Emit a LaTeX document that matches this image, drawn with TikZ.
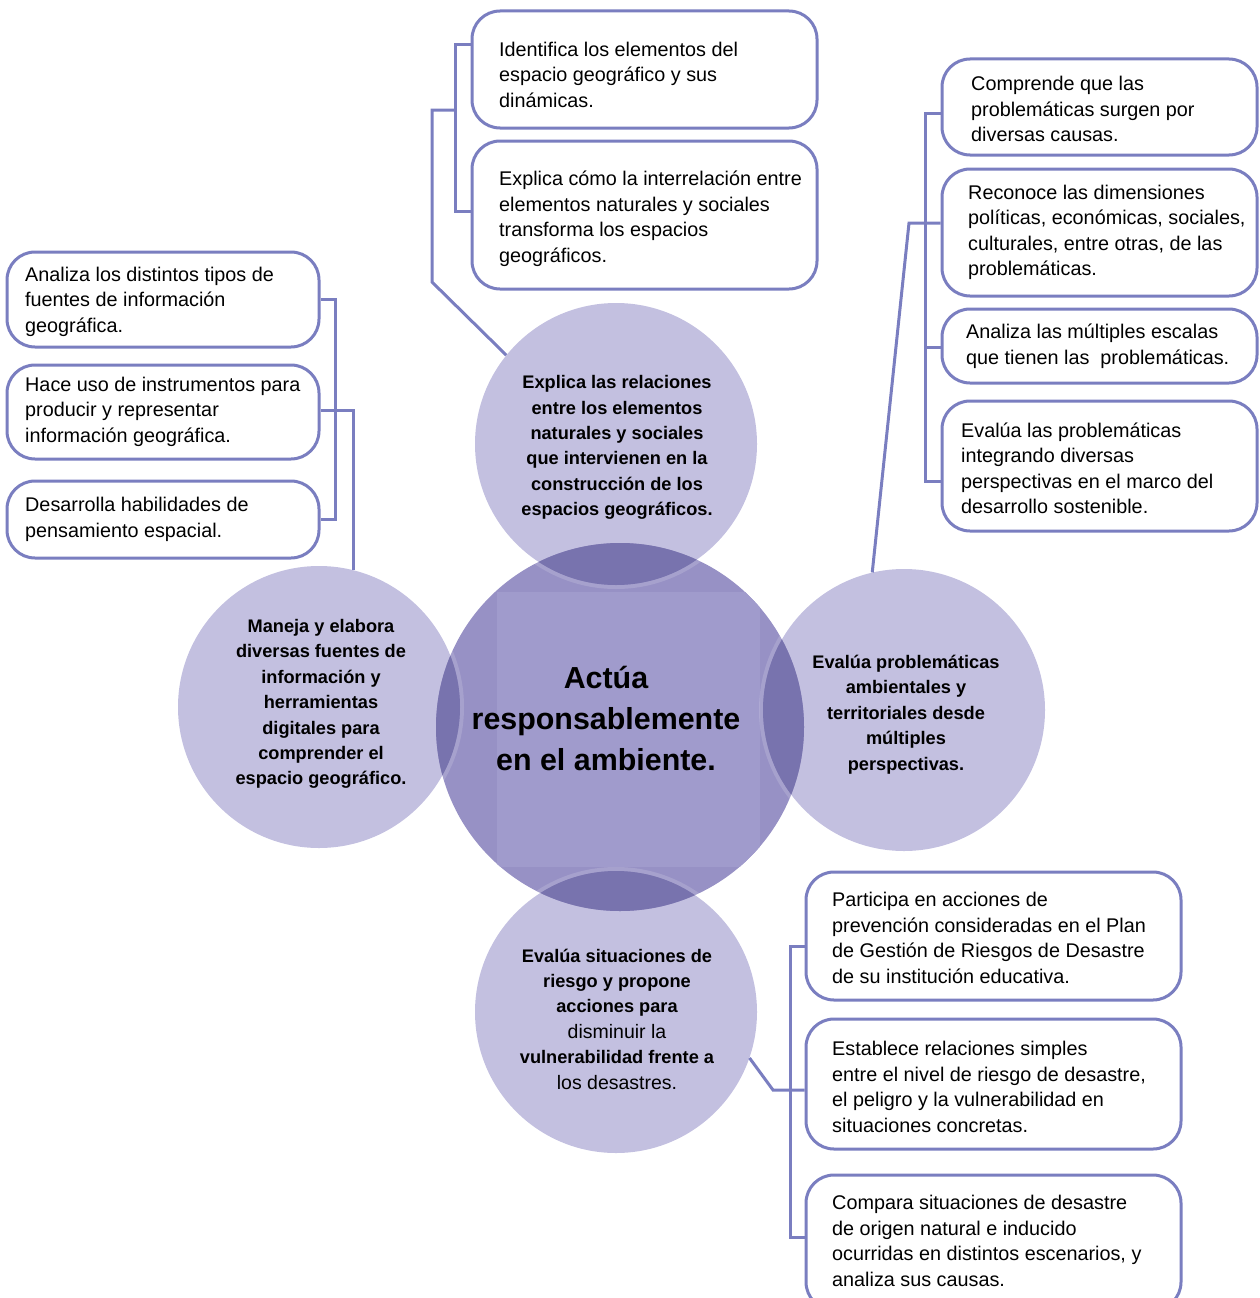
\documentclass[tikz,border=0pt]{standalone}
\usepackage{fontspec}
\setmainfont{Liberation Sans}
\definecolor{lineblue}{RGB}{122,126,192}
\definecolor{bubblefill}{RGB}{195,192,224}
\definecolor{corefill}{RGB}{151,145,197}
\definecolor{corelight}{RGB}{160,155,204}
\definecolor{lensfill}{RGB}{120,115,174}
\begin{document}
\begin{tikzpicture}[x=1pt,y=-1pt,
  link/.style={draw=lineblue, line width=3pt},
  card/.style={draw=lineblue, line width=3pt, rounded corners=28pt, fill=white, inner sep=0pt},
  cardtext/.style={anchor=west, align=left, inner sep=0pt, font=\fontsize{19.8}{25.5}\selectfont},
  bubble/.style={circle, fill=bubblefill, inner sep=0pt, minimum size=282pt},
  bubbletext/.style={align=center, inner sep=0pt, font=\bfseries\fontsize{18.2}{25.4}\selectfont},
]
\useasboundingbox (0,0) rectangle (1260,1298);

% outer bubbles
\node[bubble] (ctop)   at (616,444)  {};
\node[bubble] (cleft)  at (319,707)  {};
\node[bubble] (cright) at (904,710)  {};
\node[bubble] (cbot)   at (616,1012) {};

% central bubble with its lighter inner panel and darker lenses
\node[circle, fill=corefill, inner sep=0pt, minimum size=368pt] (core) at (620,727) {};
\begin{scope}
  \clip (620,727) circle[radius=184];
  \fill[corelight] (497,592) rectangle (760,867);
  \foreach \c in {(616,444),(319,707),(904,710),(616,1012)}{
    \draw[white, opacity=0.15, line width=4pt] \c circle[radius=143];
    \fill[lensfill] \c circle[radius=141];
  }
\end{scope}

% bubble texts
\node[bubbletext] (ttop) at (617,447.5) {Explica las relaciones\\entre los elementos\\naturales y sociales\\que intervienen en la\\construcción de los\\espacios geográficos.};
\node[bubbletext] (tleft) at (321,704) {Maneja y elabora\\diversas fuentes de\\información y\\herramientas\\digitales para\\comprender el\\espacio geográfico.};
\node[bubbletext] (tright) at (906,714.5) {Evalúa problemáticas\\ambientales y\\territoriales desde\\múltiples\\perspectivas.};
\node[bubbletext] (tbot) at (617,1019) {Evalúa situaciones de\\riesgo y propone\\acciones para\\{\mdseries\fontsize{19.5}{25.4}\selectfont disminuir la}\\vulnerabilidad frente a\\{\mdseries\fontsize{19.5}{25.4}\selectfont los desastres.}};
\node[align=center, inner sep=0pt, font=\bfseries\fontsize{30.4}{41}\selectfont] (tcore) at (606,718) {Actúa\\responsablemente\\en el ambiente.};

% cards
\node[card, minimum width=345pt, minimum height=117pt] (b1) at (644.5,69.5) {};
\node[card, minimum width=345pt, minimum height=148pt] (b2) at (644.5,215) {};
\node[card, minimum width=315pt, minimum height=96pt]  (r1) at (1099.5,107) {};
\node[card, minimum width=315pt, minimum height=127pt] (r2) at (1099.5,232.5) {};
\node[card, minimum width=315pt, minimum height=74pt]  (r3) at (1099.5,346) {};
\node[card, minimum width=315pt, minimum height=130pt] (r4) at (1099.5,466) {};
\node[card, minimum width=312pt, minimum height=95pt]  (l1) at (163,299.5) {};
\node[card, minimum width=312pt, minimum height=94pt]  (l2) at (163,412) {};
\node[card, minimum width=312pt, minimum height=77pt]  (l3) at (163,519.5) {};
\node[card, minimum width=375pt, minimum height=128pt] (d1) at (993.5,936) {};
\node[card, minimum width=375pt, minimum height=130pt] (d2) at (993.5,1084) {};
\node[card, minimum width=375pt, minimum height=135pt] (d3) at (993.5,1242.5) {};

% card texts
\node[cardtext] (b1t) at (499,74.5) {Identifica los elementos del\\espacio geográfico y sus\\dinámicas.};
\node[cardtext] (b2t) at (499,219) {Explica cómo la interrelación entre\\elementos naturales y sociales\\transforma los espacios\\geográficos.};
\node[cardtext] (r1t) at (971,109) {Comprende que las\\problemáticas surgen por\\diversas causas.};
\node[cardtext] (r2t) at (968,232.5) {Reconoce las dimensiones\\políticas, económicas, sociales,\\culturales, entre otras, de las\\problemáticas.};
\node[cardtext] (r3t) at (966,346.5) {Analiza las múltiples escalas\\que tienen las\ \ problemáticas.};
\node[cardtext] (r4t) at (961,468.5) {Evalúa las problemáticas\\integrando diversas\\perspectivas en el marco del\\desarrollo sostenible.};
\node[cardtext] (l1t) at (25,301.5) {Analiza los distintos tipos de\\fuentes de información\\geográfica.};
\node[cardtext] (l2t) at (25,411.5) {Hace uso de instrumentos para\\producir y representar\\información geográfica.};
\node[cardtext] (l3t) at (25,519.5) {Desarrolla habilidades de\\pensamiento espacial.};
\node[cardtext] (d1t) at (832,938) {Participa en acciones de\\prevención consideradas en el Plan\\de Gestión de Riesgos de Desastre\\de su institución educativa.};
\node[cardtext] (d2t) at (832,1087) {Establece relaciones simples\\entre el nivel de riesgo de desastre,\\el peligro y la vulnerabilidad en\\situaciones concretas.};
\node[cardtext] (d3t) at (832,1241) {Compara situaciones de desastre\\de origen natural e inducido\\ocurridas en distintos escenarios, y\\analiza sus causas.};

% bus coordinates
\coordinate (tbus) at (455,0);
\coordinate (rbus) at (925,0);
\coordinate (lbus) at (335,0);
\coordinate (dbus) at (790,0);

% connectors: top group
\draw[link] (ctop.141) -- (432,282) -- (432,110) -- (tbus |- 0,110);
\draw[link] ([yshift=24.5pt]b1.west) -| (tbus |- 0,211) -- ([yshift=4pt]b2.west);

% connectors: right group
\draw[link] (cright.103.5) -- (909,223) -- ([yshift=9.5pt]r2.west);
\draw[link] ([yshift=-6pt]r1.west) -| (rbus |- 0,481) -- ([yshift=-15pt]r4.west);
\draw[link] ([yshift=-1pt]r3.west) -- (rbus |- 0,347);

% connectors: left group
\draw[link] (l1.east) -| (lbus |- l3.east) -- (l3.east);
\draw[link] ([yshift=2pt]l2.east) -| (cleft.76.9);

% connectors: bottom group
\draw[link] (cbot.-19) -- (773,1090) -- ([yshift=-6pt]d2.west);
\draw[link] ([yshift=-10pt]d1.west) -| (dbus |- 0,1237) -- ([yshift=5.5pt]d3.west);
\end{tikzpicture}
\end{document}
